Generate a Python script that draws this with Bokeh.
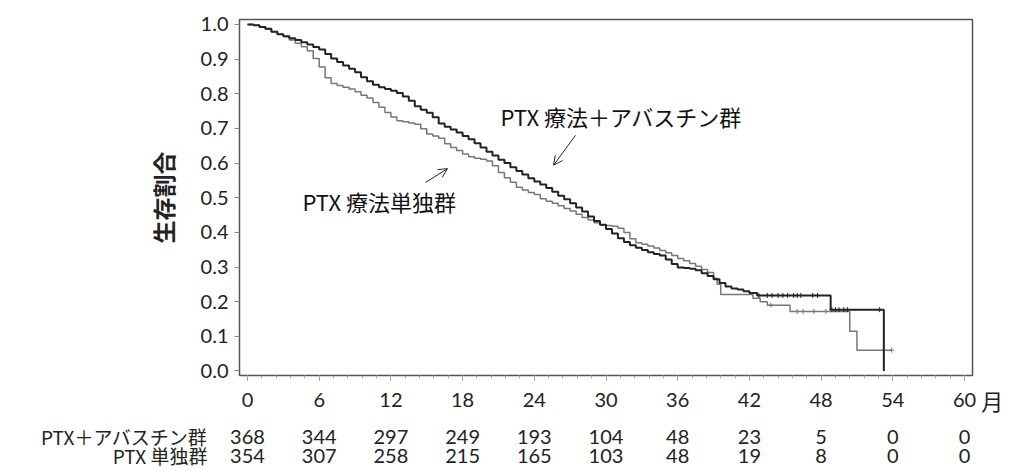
from bokeh.plotting import figure
from bokeh.layouts import column
from bokeh.models import (Range1d, Label, ColumnDataSource, Arrow,
                          OpenHead, FixedTicker, PrintfTickFormatter)
from bokeh.embed import file_html
from bokeh.resources import INLINE
from bokeh.core.properties import value

# ---------------- data ----------------
month_ticks = [0, 6, 12, 18, 24, 30, 36, 42, 48, 54, 60]
surv_ticks = [0.0, 0.1, 0.2, 0.3, 0.4, 0.5, 0.6, 0.7, 0.8, 0.9, 1.0]

# PTX + Avastin (black)
combo_t = [0, 0.5, 1.0, 1.5, 2.0, 2.5, 3.0, 3.5, 4.0, 4.5, 5.0, 5.5, 6.0,
           6.5, 7.0, 7.5, 8.0, 8.5, 9.0, 9.5, 10.0, 10.5, 11.0, 11.5, 12.0,
           12.5, 13.0, 13.5, 14.0, 14.5, 15.0, 15.5, 16.0, 16.5, 17.0, 17.5,
           18.0, 18.5, 19.0, 19.5, 20.0, 20.5, 21.0, 21.5, 22.0, 22.5, 23.0,
           23.5, 24.0, 24.5, 25.0, 25.5, 26.0, 26.5, 27.0, 27.5, 28.0, 28.5,
           29.0, 29.5, 30.0, 30.5, 31.0, 31.5, 32.0, 32.5, 33.0, 33.5, 34.0,
           34.5, 35.0, 35.5, 36.0, 36.5, 37.0, 37.5, 38.0, 38.5, 39.0, 39.5,
           40.0, 40.5, 41.0, 41.5, 42.0, 42.65, 48.8, 53.25]
combo_s = [1.0, 0.998, 0.993, 0.988, 0.979, 0.972, 0.966, 0.960, 0.955,
           0.949, 0.942, 0.935, 0.928, 0.915, 0.902, 0.892, 0.882, 0.872,
           0.862, 0.848, 0.836, 0.826, 0.819, 0.814, 0.809, 0.802, 0.792,
           0.780, 0.764, 0.754, 0.745, 0.732, 0.714, 0.705, 0.697, 0.688,
           0.678, 0.669, 0.657, 0.645, 0.633, 0.622, 0.610, 0.600, 0.588,
           0.577, 0.567, 0.556, 0.547, 0.538, 0.528, 0.517, 0.506, 0.496,
           0.484, 0.472, 0.460, 0.446, 0.433, 0.422, 0.410, 0.397, 0.383,
           0.372, 0.363, 0.356, 0.349, 0.343, 0.338, 0.333, 0.322, 0.309,
           0.299, 0.297, 0.295, 0.291, 0.282, 0.274, 0.265, 0.254, 0.244,
           0.238, 0.235, 0.230, 0.225, 0.218, 0.177, 0.0]

# PTX alone (gray)
mono_t = [0, 0.5, 1.0, 1.5, 2.0, 2.5, 3.0, 3.5, 4.0, 4.5, 5.0, 5.5, 6.0,
          6.5, 7.0, 7.5, 8.0, 8.5, 9.0, 9.5, 10.0, 10.5, 11.0, 11.5, 12.0,
          12.5, 13.0, 13.5, 14.0, 14.5, 15.0, 15.5, 16.0, 16.5, 17.0, 17.5,
          18.0, 18.5, 19.0, 19.5, 20.0, 20.5, 21.0, 21.5, 22.0, 22.5, 23.0,
          23.5, 24.0, 24.5, 25.0, 25.5, 26.0, 26.5, 27.0, 27.5, 28.0, 28.5,
          29.0, 29.5, 30.0, 30.5, 31.0, 31.5, 32.0, 32.5, 33.0, 33.5, 34.0,
          34.5, 35.0, 35.5, 36.0, 36.5, 37.0, 37.5, 38.0, 38.5, 39.0, 39.3,
          39.6, 42.3, 42.9, 43.5, 45.4, 50.4, 51.0, 53.9]
mono_s = [1.0, 0.998, 0.993, 0.987, 0.979, 0.972, 0.965, 0.955, 0.946,
          0.936, 0.924, 0.902, 0.877, 0.846, 0.830, 0.824, 0.819, 0.814,
          0.806, 0.796, 0.788, 0.775, 0.761, 0.746, 0.733, 0.722, 0.719,
          0.716, 0.712, 0.699, 0.684, 0.678, 0.672, 0.656, 0.645, 0.636,
          0.626, 0.618, 0.614, 0.611, 0.606, 0.592, 0.573, 0.558, 0.545,
          0.530, 0.522, 0.515, 0.509, 0.497, 0.490, 0.484, 0.477, 0.469,
          0.462, 0.452, 0.443, 0.436, 0.428, 0.422, 0.420, 0.418, 0.412,
          0.400, 0.382, 0.370, 0.366, 0.361, 0.355, 0.348, 0.341, 0.333,
          0.325, 0.318, 0.310, 0.302, 0.293, 0.284, 0.268, 0.250, 0.221,
          0.21, 0.20, 0.19, 0.172, 0.115, 0.06, 0.06]

# censoring marks
combo_cens_t = [42.8, 43.5, 43.9, 44.4, 44.8, 45.2, 45.7, 46.0, 46.3, 47.3,
                47.7, 48.9, 49.2, 49.5, 49.9, 50.2, 52.9]
combo_cens_s = [0.218] * 11 + [0.177] * 6
mono_cens_t = [43.8, 46.0, 46.5, 47.4, 48.4, 53.9]
mono_cens_s = [0.19, 0.172, 0.172, 0.172, 0.172, 0.06]

# numbers at risk
risk_combo = [368, 344, 297, 249, 193, 104, 48, 23, 5, 0, 0]
risk_mono = [354, 307, 258, 215, 165, 103, 48, 19, 8, 0, 0]

label_combo = "PTX＋アバスチン群"
label_mono = "PTX 単独群"
y_title = "生存割合"
x_unit = "月"
annot_combo = "PTX 療法＋アバスチン群"
annot_mono = "PTX 療法単独群"

# ---------------- main figure ----------------
JP = "Noto Sans CJK JP"
NUM = "Lato"
TXT = "#222222"

W = 1005
X0, X1 = -0.67, 60.67
FL, FR = 239, 33  # frame borders (px)
MH = 385

p = figure(width=W, height=MH, output_backend="svg", toolbar_location=None,
           x_range=Range1d(X0, X1), y_range=Range1d(-0.013, 1.0144),
           min_border_left=FL, min_border_right=FR, min_border_top=19,
           min_border_bottom=10)
p.xgrid.visible = False
p.ygrid.visible = False
p.outline_line_color = "#555555"
p.outline_line_width = 1.5

minor = [i * 1.2 for i in range(51)]
p.xaxis.ticker = FixedTicker(ticks=month_ticks, minor_ticks=minor)
p.yaxis.ticker = FixedTicker(ticks=surv_ticks)
p.yaxis.formatter = PrintfTickFormatter(format="%.1f")
for ax in (p.xaxis, p.yaxis):
    ax.axis_line_color = "#555555"
    ax.major_tick_line_color = "#888888"
    ax.minor_tick_line_color = "#aaaaaa"
    ax.major_tick_in = 0
    ax.major_tick_out = 5
    ax.minor_tick_in = 0
    ax.minor_tick_out = 3
p.yaxis.major_label_text_font = NUM
p.yaxis.major_label_text_font_size = "20px"
p.yaxis.major_label_text_color = TXT
p.yaxis.minor_tick_line_color = None
p.yaxis.major_label_standoff = 6
p.yaxis.axis_label = y_title
p.yaxis.axis_label_text_font = JP
p.yaxis.axis_label_text_font_size = "23px"
p.yaxis.axis_label_text_font_style = "bold"
p.yaxis.axis_label_text_color = TXT
p.yaxis.axis_label_standoff = 18
p.xaxis.major_label_text_font_size = "1px"
p.xaxis.major_label_text_color = None
p.xaxis.major_label_standoff = 0

# curves
p.step(mono_t, mono_s, mode="after", line_color="#777777", line_width=1.5)
p.step(combo_t, combo_s, mode="after", line_color="#222222", line_width=2)
p.scatter(mono_cens_t, mono_cens_s, marker="cross", size=5,
          line_color="#777777", line_width=1)
p.scatter(combo_cens_t, combo_cens_s, marker="cross", size=5,
          line_color="#222222", line_width=1)

# annotations
p.add_layout(Label(x=21.17, y=0.7345, text=annot_combo, text_font=JP,
                   text_font_size="22px", text_color="#111111",
                   text_baseline="middle", text_align="left"))
p.add_layout(Label(x=4.6, y=0.492, text=annot_mono, text_font=JP,
                   text_font_size="22px", text_color="#111111",
                   text_baseline="middle", text_align="left"))
p.add_layout(Arrow(x_start=27.45, y_start=0.68, x_end=25.61, y_end=0.594,
                   line_color="#222222", line_width=1,
                   end=OpenHead(size=9, line_color="#222222", line_width=1)))
p.add_layout(Arrow(x_start=14.9, y_start=0.544, x_end=16.74, y_end=0.584,
                   line_color="#222222", line_width=1,
                   end=OpenHead(size=9, line_color="#222222", line_width=1)))

# ---------------- tick labels & at-risk table ----------------
ppm = (W - FL - FR) / (X1 - X0)  # pixels per month
TH = 470 - MH
t = figure(width=W, height=TH, output_backend="svg", toolbar_location=None,
           x_range=Range1d(X0 - FL / ppm, X1 + FR / ppm),
           y_range=Range1d(TH, 0), x_axis_type=None, y_axis_type=None,
           min_border_left=0, min_border_right=0, min_border_top=0,
           min_border_bottom=0)
t.xgrid.visible = False
t.ygrid.visible = False
t.outline_line_color = None
for fig in (p, t):
    try:
        fig.frame_align = False
    except Exception:
        pass

ROW_TICK, ROW1, ROW2 = 14, 51, 70
rows = [(ROW_TICK, [str(m) for m in month_ticks]),
        (ROW1, [str(v) for v in risk_combo]),
        (ROW2, [str(v) for v in risk_mono])]
for yy, texts in rows:
    src = ColumnDataSource(dict(x=month_ticks, y=[yy] * len(month_ticks),
                                t=texts))
    t.text(x="x", y="y", text="t", source=src, text_font=value(NUM),
           text_font_size="20px", text_color=TXT, text_align="center",
           text_baseline="middle")

t.text(x=[61.4], y=[ROW_TICK], text=[x_unit], text_font=value(JP),
       text_font_size="22px", text_color=TXT, text_align="left",
       text_baseline="middle")
t.text(x=[-3.35, -3.35], y=[ROW1, ROW2], text=[label_combo, label_mono],
       text_font=value(JP), text_font_size="19px", text_color=TXT,
       text_align="right", text_baseline="middle")

open("out.html", "w").write(file_html(column(p, t), INLINE))
